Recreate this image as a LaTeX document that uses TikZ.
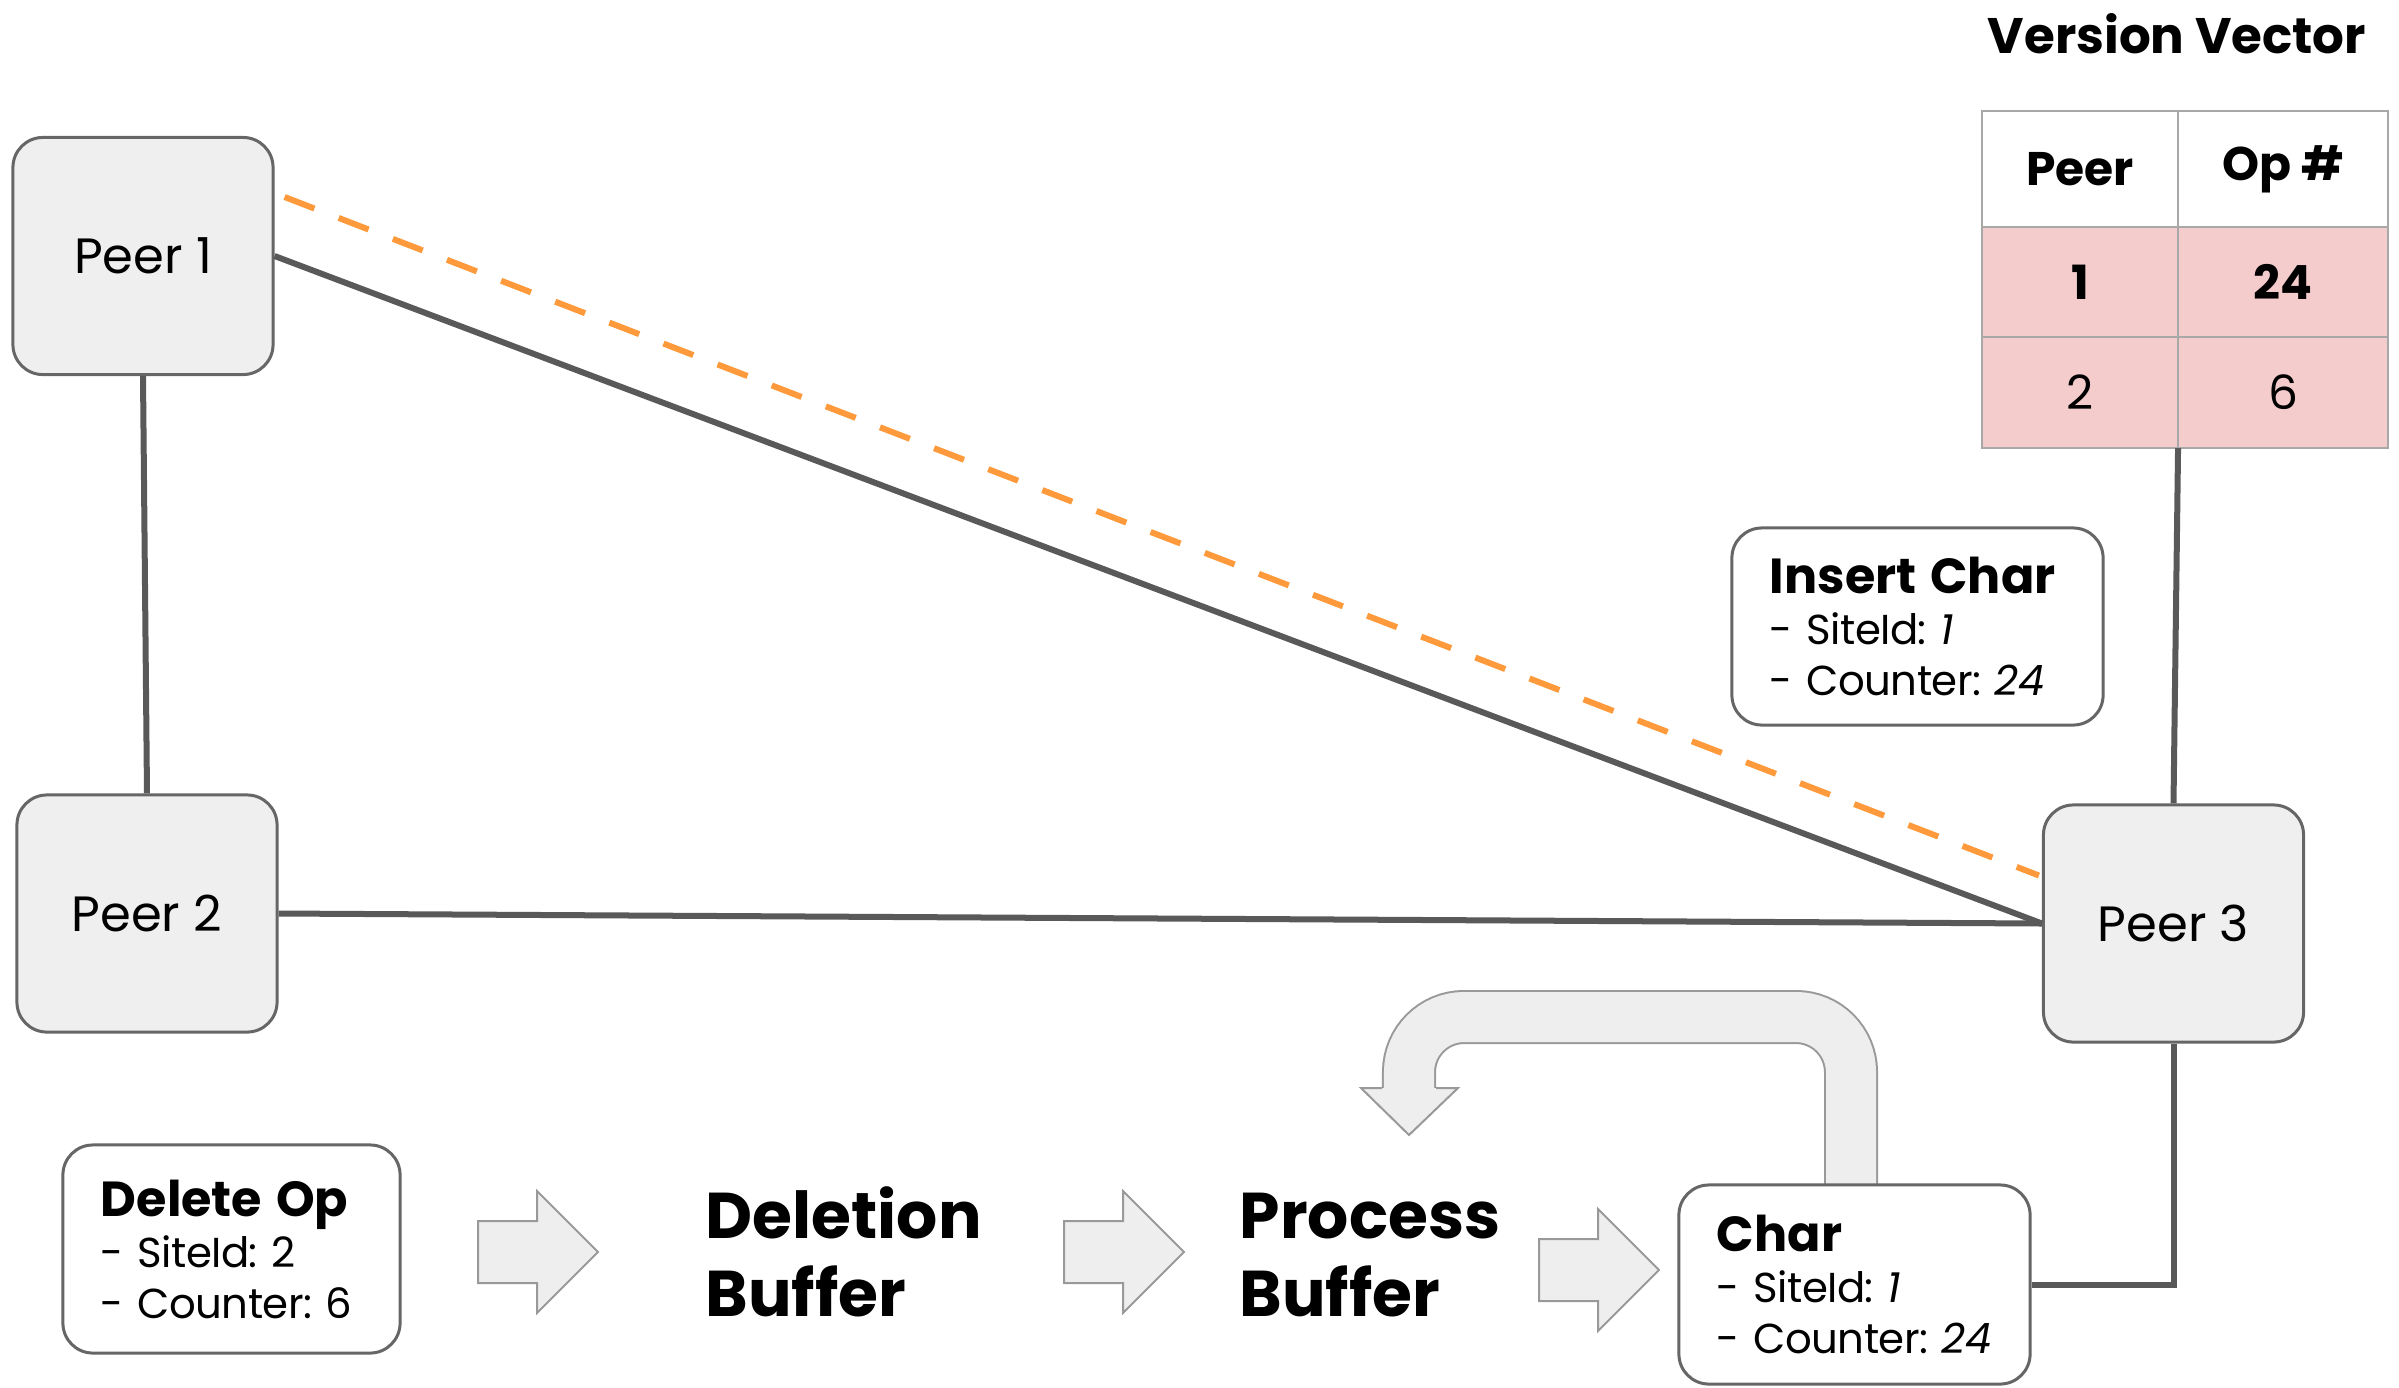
\documentclass[tikz,border=0pt]{standalone}
\usepackage{fontspec}
\setmainfont{Poppins}
\usetikzlibrary{calc}
\frenchspacing
\definecolor{peerfill}{HTML}{EFEFEF}
\definecolor{peerline}{HTML}{666666}
\definecolor{linkgray}{HTML}{595959}
\definecolor{dashorange}{HTML}{FF9A3C}
\definecolor{vvpink}{HTML}{F4CCCC}
\definecolor{vvgrid}{HTML}{A8A8A8}
\definecolor{arrowfill}{HTML}{EEEEEE}
\definecolor{arrowline}{HTML}{999999}
\tikzset{
  peer/.style={draw=peerline, fill=peerfill, line width=0.03cm, rounded corners=0.3cm,
    minimum width=2.6cm, minimum height=2.37cm, font=\fontsize{14.1}{17}\selectfont},
  opbox/.style={draw=peerline, fill=white, line width=0.03cm, rounded corners=0.3cm,
    align=left, inner xsep=0.38cm, font=\fontsize{11.9}{14.5}\selectfont},
  buftext/.style={anchor=base west, inner sep=0, align=left, text width=3.2cm,
    font=\fontsize{18.4}{22.2}\selectfont\bfseries},
  cell/.style={draw=vvgrid, line width=0.02cm, inner sep=0, outer sep=0,
    font=\fontsize{13.4}{16}\selectfont},
  link/.style={draw=linkgray, line width=0.06cm},
  pics/fatarrow/.style={code={
    \filldraw[fill=arrowfill, draw=arrowline, line width=0.02cm]
      (0,-31) -- (59,-31) -- (59,-61) -- (120,0) -- (59,61) -- (59,31) -- (0,31) -- cycle;}}
}
\newcommand{\ophead}[1]{\mbox{\textbf{\fontsize{14}{14.5}\selectfont #1}}}
\newcommand{\opline}[1]{\mbox{\addfontfeatures{LetterSpace=-1.5}#1}}

\begin{document}
\begin{tikzpicture}[x=0.01cm,y=-0.01cm]
  \useasboundingbox (0,0) rectangle (2399,1387);

  \node[anchor=base, font=\fontsize{14.2}{17}\selectfont\bfseries] (VVtitle) at (2177,53) {Version Vector};
  \node[cell, fill=white, minimum width=1.96cm, minimum height=1.16cm] (vv01) at (2080,169) {\bfseries Peer};
  \node[cell, fill=white, minimum width=2.10cm, minimum height=1.16cm] (vv02) at (2283,169) {\bfseries Op \#};
  \node[cell, fill=vvpink, minimum width=1.96cm, minimum height=1.10cm] (vv11) at (2080,282) {\bfseries 1};
  \node[cell, fill=vvpink, minimum width=2.10cm, minimum height=1.10cm] (vv12) at (2283,282) {\bfseries 24};
  \node[cell, fill=vvpink, minimum width=1.96cm, minimum height=1.11cm] (vv21) at (2080,392.5) {2};
  \node[cell, fill=vvpink, minimum width=2.10cm, minimum height=1.11cm] (vv22) at (2283,392.5) {6};

  \node[peer] (Peer1) at (143,256) {Peer 1};
  \node[peer] (Peer2) at (147,913.5) {Peer 2};
  \node[peer] (Peer3) at (2173.5,923.5) {Peer 3};

  \draw[link] (Peer1.south) -- (Peer2.north);
  \draw[link] (Peer1.east) -- (Peer3.west);
  \draw[link] (Peer2.east) -- (Peer3.west);
  \draw[link] (vv21.south east) -- (Peer3.north);
  \draw[draw=dashorange, line width=0.06cm, dash pattern=on 0.32cm off 0.26cm]
    ($(Peer1.east)+(10,-59)$) -- ($(Peer3.west)+(-3,-48)$);

  \node[opbox, text width=2.95cm, minimum height=1.97cm] (InsChar) at (1917.5,626.5)
    {\ophead{Insert Char}\\\opline{- SiteId: \textit{1}}\\\opline{- Counter: \textit{24}}};

  \node[opbox, text width=2.61cm, minimum height=2.08cm] (DelOp) at (231.5,1249)
    {\ophead{Delete Op}\\\opline{- SiteId: 2}\\\opline{- Counter: 6}};
  \pic (ArrA) at (478,1252) {fatarrow};
  \node[buftext] (DelBuf) at (705,1238) {Deletion\\Buffer};
  \pic (ArrB) at (1064,1252) {fatarrow};
  \node[buftext] (ProcBuf) at (1239,1238) {Process\\Buffer};
  \pic (ArrC) at (1539,1270) {fatarrow};

  \draw[draw=arrowline, line width=0.02cm, double=arrowfill, double distance=0.5cm, rounded corners=0.55cm]
    (1851,1200) -- (1851,1017) -- (1409,1017) -- (1409,1090);
  \filldraw[fill=arrowfill, draw=arrowline, line width=0.02cm]
    (1382,1088) -- (1361,1088) -- (1409,1135) -- (1458,1088) -- (1436,1088);

  \node[opbox, text width=2.75cm, minimum height=1.99cm] (Char) at (1854.5,1284.5)
    {\ophead{Char}\\\opline{- SiteId: \textit{1}}\\\opline{- Counter: \textit{24}}};
  \draw[link] (Peer3.south) |- (Char.east);
\end{tikzpicture}
\end{document}
